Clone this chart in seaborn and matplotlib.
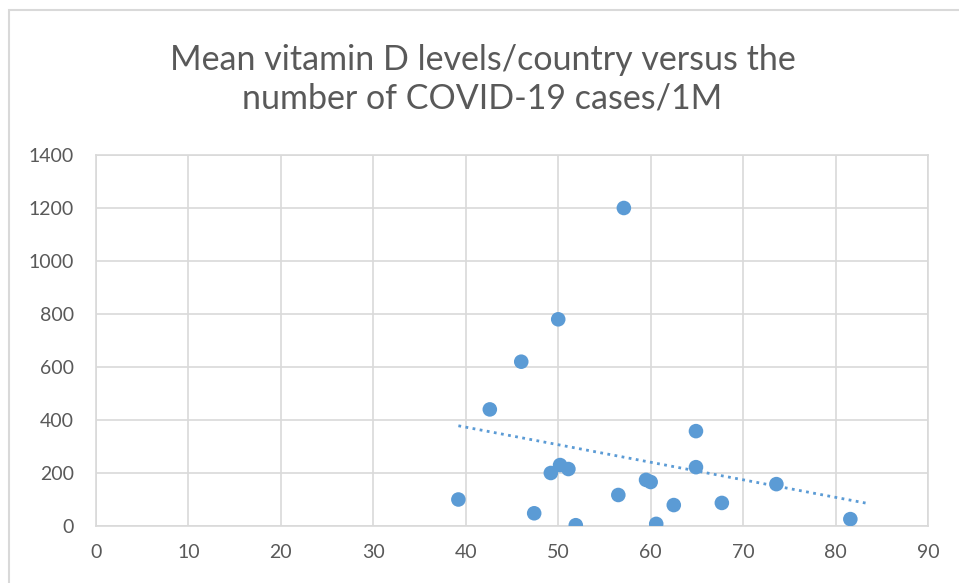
import matplotlib
matplotlib.use('Agg')
import matplotlib.pyplot as plt
import numpy as np
import pandas as pd
import seaborn as sns
from matplotlib.patches import Rectangle

# mean vitamin D level (nmol/L) per country
vitamin_d = [39.2, 42.6, 46.0, 47.4, 50.0, 49.2, 50.2, 51.1, 51.9, 57.1,
             56.5, 59.5, 60.0, 60.6, 62.5, 64.9, 64.9, 67.7, 73.6, 81.6]
# COVID-19 cases per 1M
cases_per_1m = [100, 440, 620, 48, 780, 200, 230, 215, 3, 1200,
                117, 174, 166, 8, 79, 358, 222, 87, 158, 26]

x_ticks = list(range(0, 91, 10))
y_ticks = list(range(0, 1401, 200))

df = pd.DataFrame({'vitd': vitamin_d, 'cases': cases_per_1m})

sns.set_style('white')
plt.rcParams['font.family'] = ['Lato', 'DejaVu Sans']

blue = '#5B9BD5'
grid_c = '#D9D9D9'
text_c = '#595959'

fig = plt.figure(figsize=(9.59, 5.83), dpi=100)
ax = fig.add_axes([96 / 959, 1 - 526 / 583, 832 / 959, 371 / 583])

sns.scatterplot(data=df, x='vitd', y='cases', ax=ax, color=blue, s=110,
                edgecolor='none', zorder=3)

# linear trendline, forward forecast of 2 units like Excel
slope, intercept = np.polyfit(df['vitd'], df['cases'], 1)
tx = np.array([df['vitd'].min(), df['vitd'].max() + 2])
ax.plot(tx, slope * tx + intercept, color=blue, lw=2, linestyle=(0, (1, 1.6)), zorder=2)

ax.set_xlim(0, 90)
ax.set_ylim(0, 1400)
ax.set_xticks(x_ticks)
ax.set_yticks(y_ticks)
ax.grid(True, color=grid_c, lw=1.2)
ax.set_axisbelow(True)
for sp in ax.spines.values():
    sp.set_color(grid_c)
    sp.set_linewidth(1.2)
ax.tick_params(length=0, labelsize=14, labelcolor=text_c)
ax.tick_params(axis='y', pad=16)
ax.tick_params(axis='x', pad=13)
ax.set_xlabel('')
ax.set_ylabel('')

fig.text(0.503, 1 - 79 / 583, 'Mean vitamin D levels/country versus the\nnumber of COVID-19 cases/1M',
         ha='center', va='center', fontsize=24.5, color=text_c, linespacing=1.25)

fig.patches.append(Rectangle((9 / 959, -0.1), 1.2, 1 - 10 / 583 + 0.1,
                             transform=fig.transFigure, fill=False,
                             edgecolor=grid_c, lw=1.5))

fig.savefig('out.png', dpi=100)
plt.close(fig)
